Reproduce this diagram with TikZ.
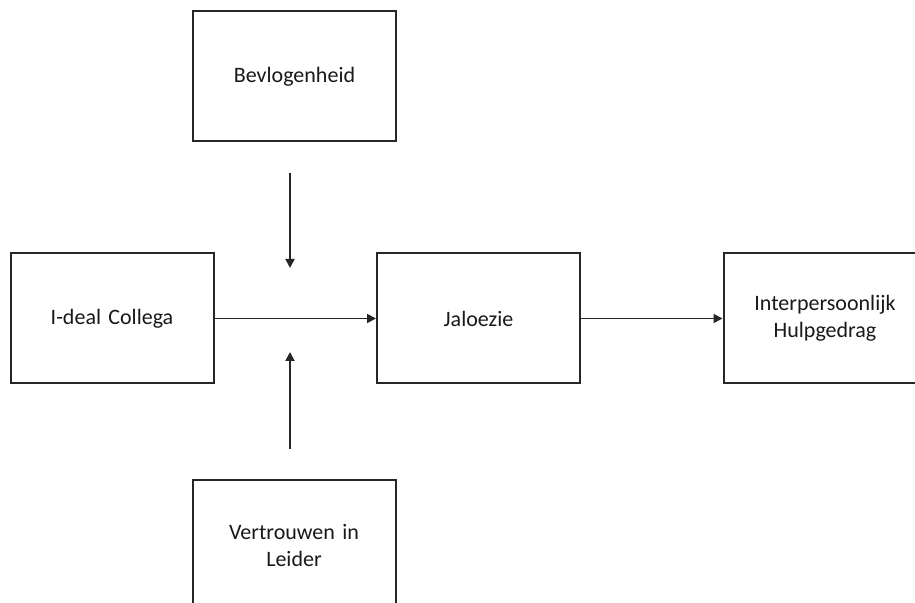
\documentclass[tikz,border=0pt]{standalone}
\usepackage{fontspec}
\setmainfont[WordSpace=0.75]{Carlito}
\usetikzlibrary{arrows.meta, positioning}

\begin{document}
\begin{tikzpicture}[
  x=0.5pt, y=-0.5pt,
  construct/.style={rectangle, draw=black!85, line width=1pt, text width=2.6cm, align=center, minimum width=101.5pt, minimum height=65pt, font=\fontsize{11}{13.5}\selectfont, text=black!90},
  arrow/.style={-{Triangle[length=4.5pt, width=4.5pt]}, line width=0.9pt, black!85}
]
\clip (0,0) rectangle (915,603);
\fill[white] (0,0) rectangle (915,603);

\node[construct] (bevl) at (294.5,76.5) {Bevlogenheid};
\node[construct] (ideal) at (112,318.5) {I-deal Collega};
\node[construct] (jal) at (478.5,318.5) {Jaloezie};
\node[construct] (hulp) at (825,318.5) {Interpersoonlijk\\Hulpgedrag};
\node[construct] (vert) at (294,545.5) {Vertrouwen in\\Leider};

\coordinate (bevlstart) at (290,173);
\coordinate (bevlend) at (290,268);
\coordinate (vertstart) at (290,449);
\coordinate (vertend) at (290,352);

\draw[arrow] (ideal) -- (jal);
\draw[arrow] (jal) -- (hulp);
\draw[arrow] (bevlstart) -- (bevlend);
\draw[arrow] (vertstart) -- (vertend);
\end{tikzpicture}
\end{document}
